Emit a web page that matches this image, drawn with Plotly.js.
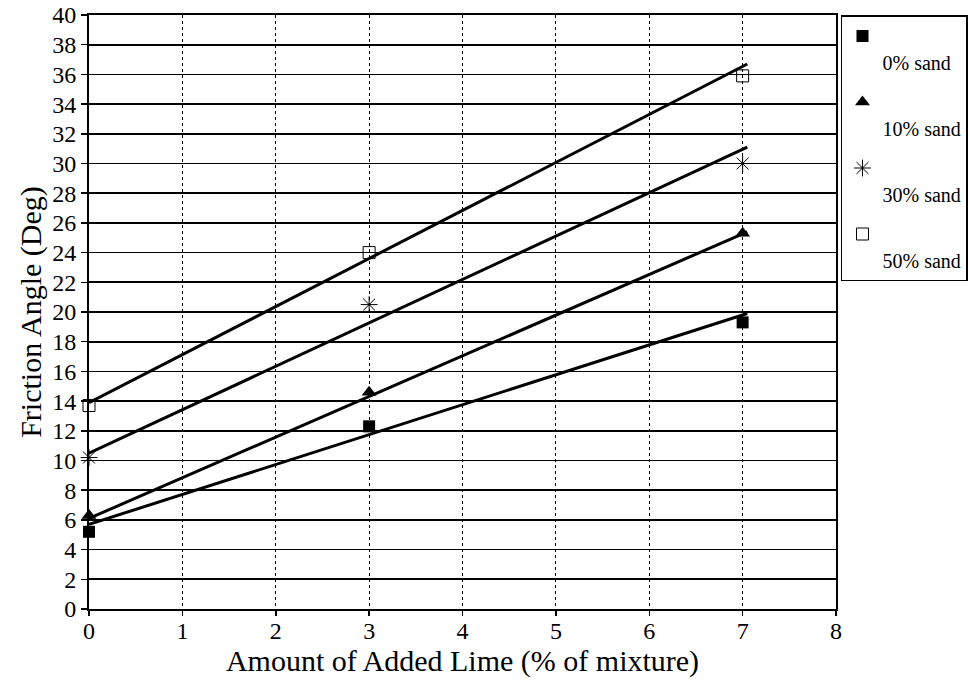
<!DOCTYPE html>
<html>
<head>
<meta charset="utf-8">
<script src="https://cdn.plot.ly/plotly-3.0.1.min.js"></script>
<style>html,body{margin:0;padding:0;background:#fff;}#chart{width:970px;height:685px;}</style>
</head>
<body>
<div id="chart"></div>
<script>
// Measured data points
const limePct = [0, 3, 7];
const sand0 = [5.2, 12.3, 19.3];
const sand10 = [6.3, 14.6, 25.3];
const sand30 = [10.2, 20.5, 30.0];
const sand50 = [13.7, 24.0, 35.9];
// Fitted trend lines (endpoints as drawn)
const fitX = [0, 7.05];
const fit0 = [5.7, 19.9];
const fit10 = [6.1, 25.4];
const fit30 = [10.5, 31.1];
const fit50 = [13.9, 36.7];
const seriesNames = ['0% sand', '10% sand', '30% sand', '50% sand'];
const xTicks = [0, 1, 2, 3, 4, 5, 6, 7, 8];
const yTicks = [0, 2, 4, 6, 8, 10, 12, 14, 16, 18, 20, 22, 24, 26, 28, 30, 32, 34, 36, 38, 40];

const FONT = 'Liberation Serif';
const fits = [fit0, fit10, fit30, fit50];
const pts = [sand0, sand10, sand30, sand50];
const markers = [
  {symbol: 'square', size: 12, color: '#000'},
  {symbol: 'triangle-up', size: 13, color: '#000'},
  {symbol: 'asterisk-open', size: 14, color: '#000', line: {color: '#000', width: 1}},
  {symbol: 'square-open', size: 12, color: '#000', line: {color: '#000', width: 1}}
];

const traces = [];
fits.forEach((f, i) => {
  traces.push({x: fitX, y: f, mode: 'lines', line: {color: '#000', width: 3},
    showlegend: false, hoverinfo: 'skip'});
});
pts.forEach((p, i) => {
  traces.push({x: limePct, y: p, mode: 'markers', name: ' <br>' + seriesNames[i],
    legendgroup: 'g' + i, marker: markers[i], cliponaxis: false});
});

const layout = {
  width: 970, height: 685,
  margin: {l: 89, r: 134, t: 15, b: 76, autoexpand: false},
  paper_bgcolor: '#fff', plot_bgcolor: '#fff',
  font: {family: FONT, color: '#000', size: 22},
  showlegend: true,
  legend: {x: 1.1767, xanchor: 'right', y: 1, yanchor: 'top', valign: 'top',
    bordercolor: '#000', borderwidth: 1.5, bgcolor: '#fff',
    traceorder: 'grouped', tracegroupgap: 11,
    font: {family: FONT, size: 20, color: '#000'}, itemwidth: 30},
  xaxis: {range: [0, 8], tickvals: xTicks, ticktext: xTicks.map(String),
    showline: true, mirror: true, linecolor: '#000', linewidth: 2,
    ticks: 'outside', ticklen: 5, tickwidth: 1.5, tickcolor: '#000',
    showgrid: true, gridcolor: '#000', gridwidth: 1.2, griddash: 'dot',
    zeroline: false, tickfont: {family: FONT, size: 24},
    ticklabelstandoff: -6, automargin: false,
    title: {text: 'Amount of Added Lime (% of mixture)', font: {family: FONT, size: 30}, standoff: 0}},
  yaxis: {range: [0, 40], tickvals: yTicks, ticktext: yTicks.map(String),
    showline: true, mirror: true, linecolor: '#000', linewidth: 2,
    ticks: 'outside', ticklen: 6, tickwidth: 1.5, tickcolor: '#000',
    showgrid: true, gridcolor: '#000', gridwidth: 1.6,
    zeroline: false, tickfont: {family: FONT, size: 24},
    automargin: false,
    title: {text: 'Friction Angle (Deg)', font: {family: FONT, size: 30}, standoff: 2}}
};

Plotly.newPlot('chart', traces, layout, {displayModeBar: false, staticPlot: true});
</script>
</body>
</html>
